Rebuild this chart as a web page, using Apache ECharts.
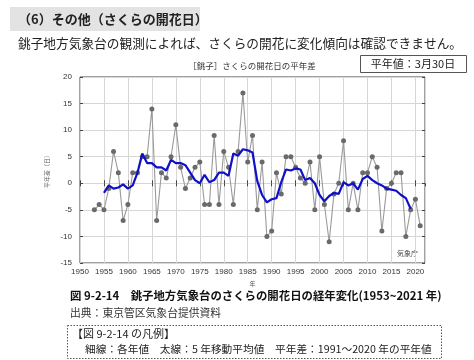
<!DOCTYPE html>
<html>
<head>
<meta charset="utf-8">
<script src="https://cdn.jsdelivr.net/npm/echarts@6/dist/echarts.min.js"></script>
<style>
html,body{margin:0;padding:0;background:#fff;}
#c{width:474px;height:360px;}
</style>
</head>
<body>
<div id="c"></div>
<script>
// ---- data ----
var years = [1953,1954,1955,1956,1957,1958,1959,1960,1961,1962,1963,1964,1965,1966,1967,1968,1969,1970,1971,1972,1973,1974,1975,1976,1977,1978,1979,1980,1981,1982,1983,1984,1985,1986,1987,1988,1989,1990,1991,1992,1993,1994,1995,1996,1997,1998,1999,2000,2001,2002,2003,2004,2005,2006,2007,2008,2009,2010,2011,2012,2013,2014,2015,2016,2017,2018,2019,2020,2021];
var anomaly = [-5,-4,-5,-1,6,2,-7,-4,2,2,5,5,14,-7,2,1,5,11,3,-1,1,3,4,-4,-4,9,-4,6,3,-4,6,17,4,9,-5,4,-10,-9,2,-2,5,5,3,1,0,4,-5,5,-4,-11,-2,0,8,-5,0,-5,2,2,5,3,-9,-1,0,2,2,-10,-5,-3,-8];
var maYears = [1955,1956,1957,1958,1959,1960,1961,1962,1963,1964,1965,1966,1967,1968,1969,1970,1971,1972,1973,1974,1975,1976,1977,1978,1979,1980,1981,1982,1983,1984,1985,1986,1987,1988,1989,1990,1991,1992,1993,1994,1995,1996,1997,1998,1999,2000,2001,2002,2003,2004,2005,2006,2007,2008,2009,2010,2011,2012,2013,2014,2015,2016,2017,2018,2019];
var movingAvg5 = [-1.8,-0.4,-1.0,-0.8,-0.2,-1.0,-0.4,2.0,5.6,3.8,3.8,3.0,3.0,2.4,4.4,3.8,3.8,3.4,2.0,0.6,0.0,1.6,0.2,0.6,2.0,2.0,1.4,5.6,5.2,6.4,6.2,5.8,0.4,-2.2,-3.6,-3.0,-2.8,0.2,2.6,2.4,2.8,2.6,0.6,1.0,0.0,-2.2,-3.4,-2.4,-1.8,-2.0,0.2,-0.4,0.0,-1.2,0.8,1.4,0.6,0.0,-0.4,-1.0,-1.2,-1.4,-2.2,-2.8,-4.8];
var xTickLabels = [1950,1955,1960,1965,1970,1975,1980,1985,1990,1995,2000,2005,2010,2015,2020];
var yTickLabels = [-15,-10,-5,0,5,10,15,20];

var annualPts = years.map(function(y,i){return [y, anomaly[i]];});
var maPts = maYears.map(function(y,i){return [y, movingAvg5[i]];});

var jp = '"Noto Sans CJK JP", sans-serif';
var chart = echarts.init(document.getElementById('c'), null, {renderer:'canvas'});
var axisLblFont = 'Liberation Sans, Arial, sans-serif';

chart.setOption({
  animation:false,
  backgroundColor:'#fff',
  grid:{left:80, top:77, width:345, height:186, show:true, borderColor:'#444', borderWidth:1, backgroundColor:'transparent'},
  xAxis:[{
    type:'value', min:1950, max:2022, interval:5,
    axisLine:{show:false},
    axisTick:{show:true, inside:true, length:3, lineStyle:{color:'#444'}},
    splitLine:{show:true, lineStyle:{color:'#d6d6d6', width:1}},
    axisLabel:{show:true, color:'#333', fontSize:8, fontFamily:axisLblFont, margin:5, showMaxLabel:false,
      formatter:function(v){return xTickLabels.indexOf(v)>=0 ? String(v) : '';}},
    name:'年', nameLocation:'middle', nameGap:16, nameTextStyle:{fontSize:6, color:'#555', fontFamily:jp}
  },{
    type:'value', min:1950, max:2022, interval:5, position:'top',
    axisLine:{show:false}, axisLabel:{show:false}, splitLine:{show:false},
    axisTick:{show:true, inside:true, length:3, lineStyle:{color:'#444'}}
  }],
  yAxis:[{
    type:'value', min:-15, max:20, interval:5,
    axisLine:{show:false},
    axisTick:{show:true, inside:true, length:3, lineStyle:{color:'#444'}},
    splitLine:{show:true, lineStyle:{color:'#d6d6d6', width:1}},
    axisLabel:{color:'#333', fontSize:8, fontFamily:axisLblFont, margin:8,
      formatter:function(v){return yTickLabels.indexOf(v)>=0 ? String(v) : '';}},
    name:'平年差（日）', nameLocation:'middle', nameGap:25, nameRotate:90,
    nameTextStyle:{fontSize:6, color:'#666', fontFamily:jp}
  },{
    type:'value', min:-15, max:20, interval:5, position:'right',
    axisLine:{show:false}, axisLabel:{show:false}, splitLine:{show:false},
    axisTick:{show:true, inside:true, length:3, lineStyle:{color:'#444'}}
  }],
  series:[{
    type:'line', data:annualPts, xAxisIndex:0, yAxisIndex:0,
    symbol:'circle', symbolSize:5,
    itemStyle:{color:'#6a6a6a'},
    lineStyle:{color:'#9a9a9a', width:1.1},
    z:2
  },{
    type:'line', data:maPts, xAxisIndex:0, yAxisIndex:0,
    symbol:'none', lineStyle:{color:'#1010c8', width:2.2}, z:3
  }],
  graphic:[
    {type:'rect', shape:{x:10, y:7, width:190, height:24}, style:{fill:'#e3e3e3'}},
    {type:'text', x:18, y:19, style:{text:'（6）その他（さくらの開花日）', font:'bold 13px '+jp, fill:'#222', align:'left', verticalAlign:'middle'}},
    {type:'text', x:18, y:43, style:{text:'銚子地方気象台の観測によれば、さくらの開花に変化傾向は確認できません。', font:'12.7px '+jp, fill:'#222', align:'left', verticalAlign:'middle'}},
    {type:'text', x:252, y:66, style:{text:'［銚子］さくらの開花日の平年差', font:'8.5px '+jp, fill:'#333', align:'center', verticalAlign:'middle'}},
    {type:'rect', shape:{x:360.5, y:55.5, width:106, height:17}, style:{fill:'#fff', stroke:'#555', lineWidth:1}},
    {type:'text', x:413, y:64, style:{text:'平年値：3月30日', font:'11px '+jp, fill:'#222', align:'center', verticalAlign:'middle'}},
    {type:'text', x:418, y:253, style:{text:'気象庁', font:'7px '+jp, fill:'#444', align:'right', verticalAlign:'middle'}},
    {type:'text', x:70, y:296, style:{text:'図 9-2-14　銚子地方気象台のさくらの開花日の経年変化(1953~2021 年)', font:'bold 11.4px '+jp, fill:'#111', align:'left', verticalAlign:'middle'}},
    {type:'text', x:70, y:313, style:{text:'出典：東京管区気象台提供資料', font:'10.8px '+jp, fill:'#333', align:'left', verticalAlign:'middle'}},
    {type:'rect', shape:{x:67.5, y:325.5, width:374, height:33}, style:{fill:'none', stroke:'#555', lineWidth:1, lineDash:[1.5,1.5]}},
    {type:'text', x:72, y:334, style:{text:'【図 9-2-14 の凡例】', font:'11px '+jp, fill:'#222', align:'left', verticalAlign:'middle'}},
    {type:'text', x:85, y:349, style:{text:'細線：各年値　太線：5 年移動平均値　平年差：1991～2020 年の平年値', font:'10.7px '+jp, fill:'#222', align:'left', verticalAlign:'middle'}}
  ]
});
</script>
</body>
</html>
